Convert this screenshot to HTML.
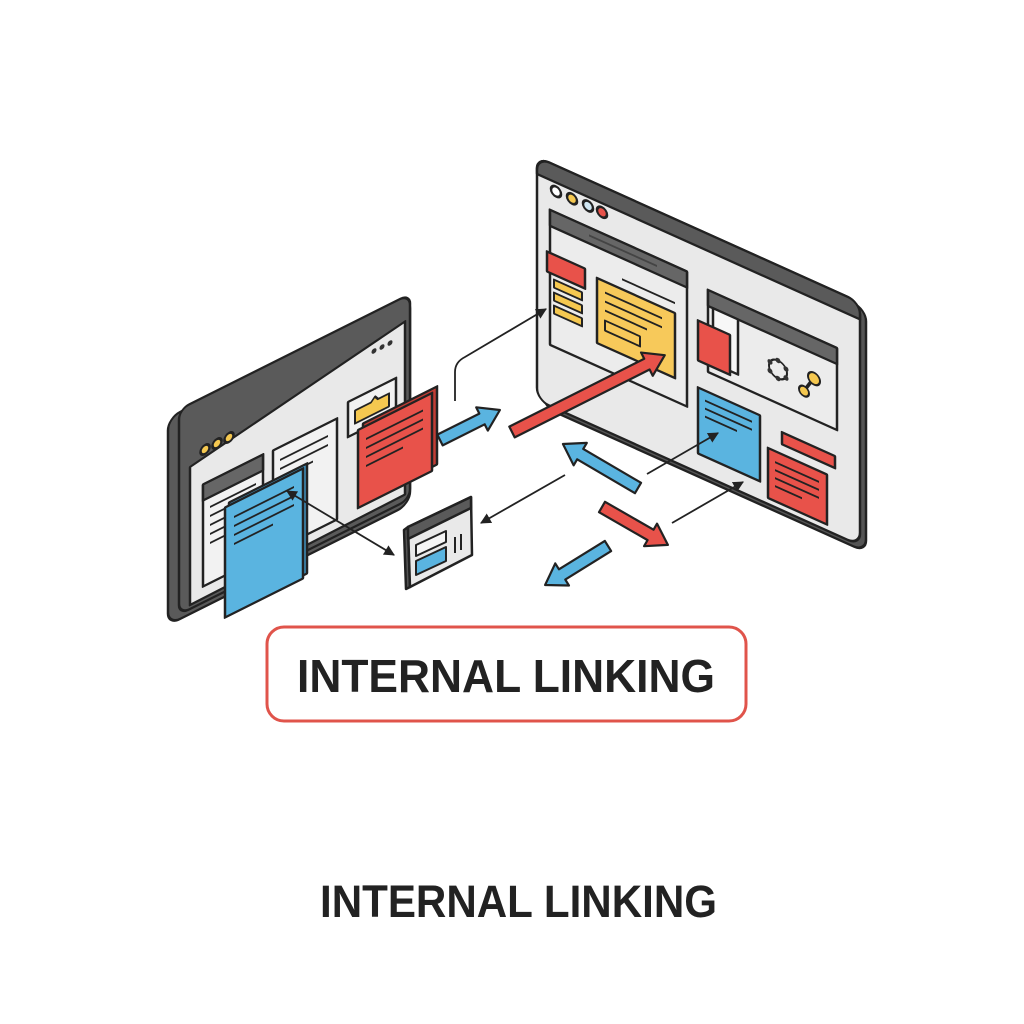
<!DOCTYPE html>
<html><head><meta charset="utf-8"><style>html,body{margin:0;padding:0;background:#fff}svg{display:block}</style></head>
<body>
<svg width="1024" height="1024" viewBox="0 0 1024 1024" xmlns="http://www.w3.org/2000/svg">
<defs>
<marker id="ah" viewBox="0 0 10 10" refX="9" refY="5" markerWidth="6" markerHeight="6" orient="auto-start-reverse"><path d="M0,0 L10,5 L0,10 z" fill="#222"/></marker>
</defs>
<rect width="1024" height="1024" fill="#fff"/>

<!-- RIGHT BROWSER -->
<g transform="matrix(1,0.45,0,1,537,157)" stroke="#222" stroke-width="2.5" stroke-linejoin="round">
  <rect x="6" y="4" width="323" height="243" rx="12" fill="#555"/>
  <rect x="0" y="0" width="323" height="243" rx="12" fill="#e9e9e9"/>
  <path d="M12,0 H311 A12,12 0 0 1 323,12 V17 H0 V12 A12,12 0 0 1 12,0 Z" fill="#5a5a5a"/>
  <circle cx="19" cy="26" r="5" fill="#fff"/>
  <circle cx="35" cy="26" r="5" fill="#f5c850"/>
  <circle cx="51" cy="26" r="5" fill="#cfe6f2"/>
  <circle cx="65" cy="26" r="5" fill="#e8524a"/>
  <rect x="13" y="47" width="137" height="135" fill="#ececec"/>
  <rect x="13" y="47" width="137" height="16" fill="#666"/>
  <line x1="52" y1="55" x2="120" y2="55" stroke="#444" stroke-width="2"/>
  <line x1="85" y1="84" x2="138" y2="84" stroke-width="2"/>
  <rect x="10" y="90" width="38" height="20" fill="#e8524a"/>
  <rect x="17" y="115" width="28" height="8" fill="#f5c850" stroke-width="2"/>
  <rect x="17" y="128" width="28" height="8" fill="#f5c850" stroke-width="2"/>
  <rect x="17" y="141" width="28" height="8" fill="#f5c850" stroke-width="2"/>
  <rect x="60" y="94" width="78" height="65" fill="#f7c95a"/>
  <g stroke-width="2"><line x1="68" y1="105" x2="125" y2="105"/><line x1="68" y1="114" x2="125" y2="114"/><line x1="68" y1="123" x2="110" y2="123"/></g>
  <rect x="68" y="133" width="35" height="10" fill="none" stroke-width="2"/>
  <rect x="171" y="56" width="129" height="82" fill="#ececec"/>
  <rect x="171" y="56" width="129" height="16" fill="#666"/>
  <rect x="176" y="72" width="25" height="55" fill="#f7f7f7"/>
  <rect x="161" y="91" width="32" height="40" fill="#e8524a"/>
  <circle cx="241" cy="104" r="9" fill="none" stroke-width="2"/>
  <g fill="#333" stroke="none"><circle cx="241" cy="95" r="2.5"/><circle cx="249" cy="100" r="2.5"/><circle cx="249" cy="109" r="2.5"/><circle cx="241" cy="113" r="2.5"/><circle cx="233" cy="109" r="2.5"/><circle cx="233" cy="100" r="2.5"/></g>
  <line x1="276" y1="98" x2="268" y2="112" stroke-width="3"/>
  <circle cx="277" cy="97" r="6" fill="#f5c850" stroke-width="2"/>
  <circle cx="267" cy="114" r="5" fill="#f5c850" stroke-width="2"/>
  <rect x="161" y="158" width="62" height="66" fill="#5ab4e0"/>
  <g stroke-width="2"><line x1="168" y1="168" x2="215" y2="168"/><line x1="168" y1="176" x2="215" y2="176"/><line x1="168" y1="184" x2="200" y2="184"/></g>
  <rect x="245" y="165" width="53" height="12" fill="#e8524a"/>
  <rect x="231" y="187" width="59" height="50" fill="#e8524a"/>
  <g stroke-width="2"><line x1="238" y1="198" x2="282" y2="198"/><line x1="238" y1="206" x2="282" y2="206"/><line x1="238" y1="214" x2="282" y2="214"/><line x1="238" y1="222" x2="265" y2="222"/></g>
</g>

<!-- LEFT BROWSER -->
<g transform="matrix(1,-0.5,0,1,168,418)" stroke="#222" stroke-width="2.5" stroke-linejoin="round">
  <rect x="0" y="0" width="242" height="207" rx="12" fill="#5a5a5a"/>
  <rect x="11" y="-3" width="231" height="205" rx="10" fill="#5a5a5a"/>
  <path d="M22,60 L237,22 V195 L22,198 Z" fill="#e9e9e9"/>
  <circle cx="37" cy="50" r="4.5" fill="#f5c850"/>
  <circle cx="49" cy="50" r="4.5" fill="#f5c850"/>
  <circle cx="61" cy="50" r="4.5" fill="#f5c850"/>
  <g fill="#333" stroke="none"><circle cx="206" cy="36" r="2.5"/><circle cx="214" cy="36" r="2.5"/><circle cx="222" cy="36" r="2.5"/></g>
  <rect x="35" y="84" width="60" height="102" fill="#f2f2f2"/>
  <rect x="35" y="84" width="60" height="16" fill="#666"/>
  <g stroke-width="2"><line x1="42" y1="110" x2="88" y2="110"/><line x1="42" y1="119" x2="88" y2="119"/><line x1="42" y1="128" x2="88" y2="128"/><line x1="42" y1="137" x2="88" y2="137"/><line x1="42" y1="146" x2="75" y2="146"/></g>
  <rect x="105" y="85" width="64" height="101" fill="#f2f2f2"/>
  <g stroke-width="2"><line x1="112" y1="98" x2="160" y2="98"/><line x1="112" y1="107" x2="160" y2="107"/><line x1="112" y1="116" x2="145" y2="116"/></g>
  <rect x="180" y="74" width="48" height="35" fill="#f2f2f2"/>
  <path d="M187,86 H203 L207,82 L210,86 H221 V99 H187 Z" fill="#f5c850" stroke-width="2"/>
  <rect x="195" y="103" width="74" height="78" fill="#c23c34"/>
  <rect x="190" y="107" width="74" height="78" fill="#e8524a"/>
  <g stroke-width="2"><line x1="198" y1="120" x2="255" y2="120"/><line x1="198" y1="129" x2="255" y2="129"/><line x1="198" y1="138" x2="255" y2="138"/><line x1="198" y1="147" x2="235" y2="147"/></g>
  <rect x="61" y="115" width="78" height="110" fill="#3f93c0"/>
  <rect x="57" y="118" width="78" height="110" fill="#5ab4e0"/>
  <g stroke-width="2"><line x1="66" y1="132" x2="126" y2="132"/><line x1="66" y1="141" x2="126" y2="141"/><line x1="66" y1="150" x2="126" y2="150"/><line x1="66" y1="159" x2="105" y2="159"/></g>
</g>

<!-- MINI BROWSER -->
<g stroke="#222" stroke-width="2.5" stroke-linejoin="round">
  <polygon points="404,530 408,527 410,587 406,589" fill="#555"/>
  <polygon points="408,527 471,497 472,555 410,587" fill="#e9e9e9"/>
  <polygon points="408,527 471,497 471,508 408,539" fill="#5a5a5a"/>
  <polygon points="416,545 446,531 446,542 416,556" fill="#f5f5f5" stroke-width="2"/>
  <polygon points="416,561 446,547 446,561 416,575" fill="#5ab4e0" stroke-width="2"/>
  <line x1="455" y1="537" x2="455" y2="553" stroke-width="2"/>
  <line x1="461" y1="534" x2="461" y2="550" stroke-width="2"/>
</g>

<g stroke="#222" stroke-width="1.8" fill="none">
  <line x1="287" y1="491" x2="394" y2="555" marker-start="url(#ah)" marker-end="url(#ah)"/>
  <path d="M455,401 V372 Q455,362 465,357 L546,309" marker-end="url(#ah)"/>
  <line x1="647" y1="474" x2="718" y2="433" marker-end="url(#ah)"/>
  <line x1="565" y1="475" x2="481" y2="523" marker-end="url(#ah)"/>
  <line x1="672" y1="523" x2="743" y2="482" marker-end="url(#ah)"/>
</g>

<g stroke="#222" stroke-width="2.2" stroke-linejoin="round">
  <path transform="translate(440,440) rotate(-26.6)" d="M0,-6 H47 V-13 L67,0 L47,13 V6 H0 Z" fill="#5ab4e0"/>
  <path transform="translate(512,432) rotate(-26.7)" d="M0,-6 H151 V-13 L171,0 L151,13 V6 H0 Z" fill="#e8524a"/>
  <path transform="translate(638,488) rotate(210.4)" d="M0,-6 H67 V-13 L87,0 L67,13 V6 H0 Z" fill="#5ab4e0"/>
  <path transform="translate(602,507) rotate(29.9)" d="M0,-6 H56 V-13 L76,0 L56,13 V6 H0 Z" fill="#e8524a"/>
  <path transform="translate(608,546) rotate(148.2)" d="M0,-6 H54 V-13 L74,0 L54,13 V6 H0 Z" fill="#5ab4e0"/>
</g>

<rect x="267" y="627" width="479" height="94" rx="17" fill="#fff" stroke="#e0544b" stroke-width="3"/>
<text x="297" y="692" font-family="Liberation Sans, Arial, sans-serif" font-weight="bold" font-size="46" fill="#222" textLength="418" lengthAdjust="spacingAndGlyphs">INTERNAL LINKING</text>
<text x="320" y="917" font-family="Liberation Sans, Arial, sans-serif" font-weight="bold" font-size="45" fill="#222" textLength="397" lengthAdjust="spacingAndGlyphs">INTERNAL LINKING</text>
</svg>
</body></html>
